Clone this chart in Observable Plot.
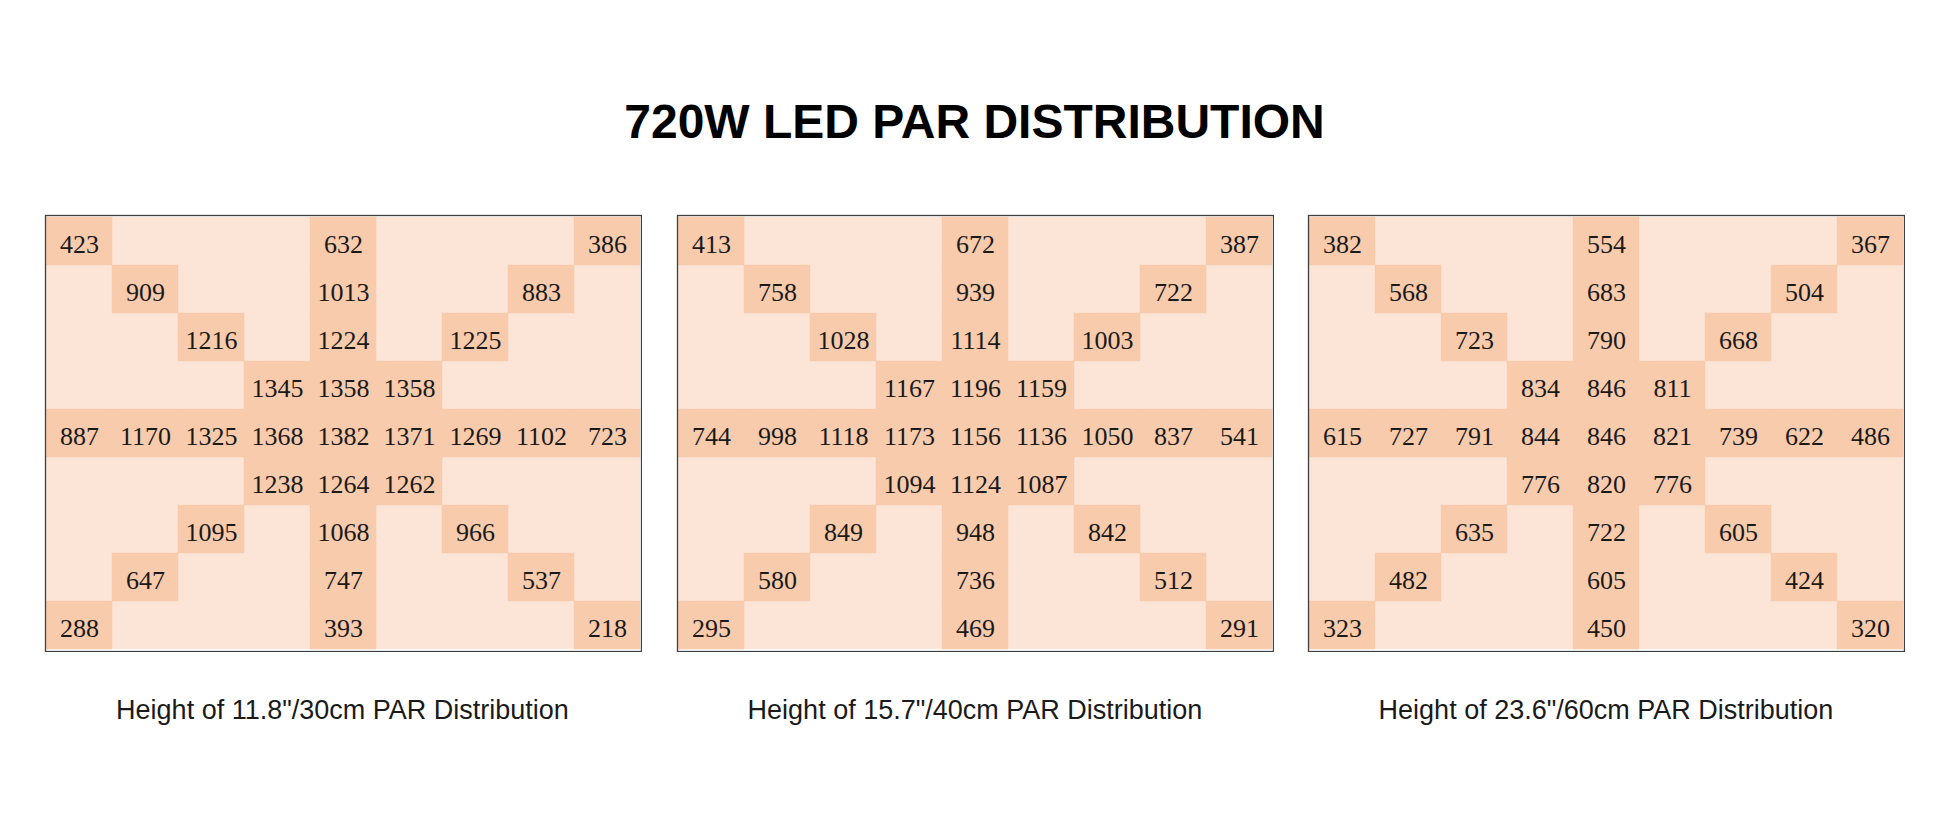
<!DOCTYPE html>
<html>
<head>
<meta charset="utf-8">
<script src="https://cdn.jsdelivr.net/npm/d3@7"></script>
<script src="https://cdn.jsdelivr.net/npm/@observablehq/plot@0.6"></script>
<style>
  html, body { margin: 0; padding: 0; background: #ffffff; }
  #page { position: relative; width: 1949px; height: 824px; overflow: hidden; background: #fff; }
  #title { position: absolute; left: 0; width: 1949px; top: 94px; line-height: 48px; font: bold 48px "Liberation Sans", Arial, sans-serif; text-align: center; color: #000; }
  .cap { position: absolute; top: 695px; line-height: 27px; font: 27px "Liberation Sans", Arial, sans-serif; text-align: center; color: #1a1a1a; }
  .panel { position: absolute; }
</style>
</head>
<body>
<div id="page">
  <div id="title"></div>
</div>
<script>
// ---- data ----
const title = "720W LED PAR DISTRIBUTION";
const heights = ["11.8\"/30cm", "15.7\"/40cm", "23.6\"/60cm"];
const cols = [0, 1, 2, 3, 4, 5, 6, 7, 8];
const rows = [0, 1, 2, 3, 4, 5, 6, 7, 8];
const _ = null;

const par30 = [
  [423, _, _, _, 632, _, _, _, 386],
  [_, 909, _, _, 1013, _, _, 883, _],
  [_, _, 1216, _, 1224, _, 1225, _, _],
  [_, _, _, 1345, 1358, 1358, _, _, _],
  [887, 1170, 1325, 1368, 1382, 1371, 1269, 1102, 723],
  [_, _, _, 1238, 1264, 1262, _, _, _],
  [_, _, 1095, _, 1068, _, 966, _, _],
  [_, 647, _, _, 747, _, _, 537, _],
  [288, _, _, _, 393, _, _, _, 218]
];
const par40 = [
  [413, _, _, _, 672, _, _, _, 387],
  [_, 758, _, _, 939, _, _, 722, _],
  [_, _, 1028, _, 1114, _, 1003, _, _],
  [_, _, _, 1167, 1196, 1159, _, _, _],
  [744, 998, 1118, 1173, 1156, 1136, 1050, 837, 541],
  [_, _, _, 1094, 1124, 1087, _, _, _],
  [_, _, 849, _, 948, _, 842, _, _],
  [_, 580, _, _, 736, _, _, 512, _],
  [295, _, _, _, 469, _, _, _, 291]
];
const par60 = [
  [382, _, _, _, 554, _, _, _, 367],
  [_, 568, _, _, 683, _, _, 504, _],
  [_, _, 723, _, 790, _, 668, _, _],
  [_, _, _, 834, 846, 811, _, _, _],
  [615, 727, 791, 844, 846, 821, 739, 622, 486],
  [_, _, _, 776, 820, 776, _, _, _],
  [_, _, 635, _, 722, _, 605, _, _],
  [_, 482, _, _, 605, _, _, 424, _],
  [323, _, _, _, 450, _, _, _, 320]
];
const grids = [par30, par40, par60];

// ---- layout (positions only) ----
const panelLeft = [43.5, 676, 1307];
const panelTop = 214.3;
const panelW = 598, panelH = 438;

const page = document.getElementById("page");
document.getElementById("title").textContent = title;

grids.forEach((grid, i) => {
  const cells = grid.flatMap((r, ri) => r.map((v, ci) => ({row: rows[ri], col: cols[ci], value: v})));
  const filled = cells.filter(d => d.value != null);
  const chart = Plot.plot({
    width: panelW,
    height: panelH,
    margin: 1,
    x: {type: "band", domain: cols, padding: 0, axis: null},
    y: {type: "band", domain: rows, padding: 0, axis: null},
    style: {background: "transparent"},
    marks: [
      Plot.cell(cells, {x: "col", y: "row", fill: "#FCE4D6"}),
      Plot.cell(filled, {x: "col", y: "row", fill: "#F8CBAD", stroke: "#F8CBAD", strokeWidth: 0.5}),
      Plot.text(filled, {x: "col", y: "row", text: d => String(d.value), fontFamily: "Liberation Serif, Times New Roman, serif", fontSize: 26, fill: "#1a1a1a", dy: 3}),
      Plot.frame({stroke: "#404040", strokeWidth: 1.3})
    ]
  });
  const wrap = document.createElement("div");
  wrap.className = "panel";
  wrap.style.left = panelLeft[i] + "px";
  wrap.style.top = panelTop + "px";
  wrap.appendChild(chart);
  page.appendChild(wrap);

  const cap = document.createElement("div");
  cap.className = "cap";
  cap.style.left = (panelLeft[i] - 100) + "px";
  cap.style.width = (panelW + 200) + "px";
  cap.textContent = "Height of " + heights[i] + " PAR Distribution";
  page.appendChild(cap);
});
</script>
</body>
</html>
